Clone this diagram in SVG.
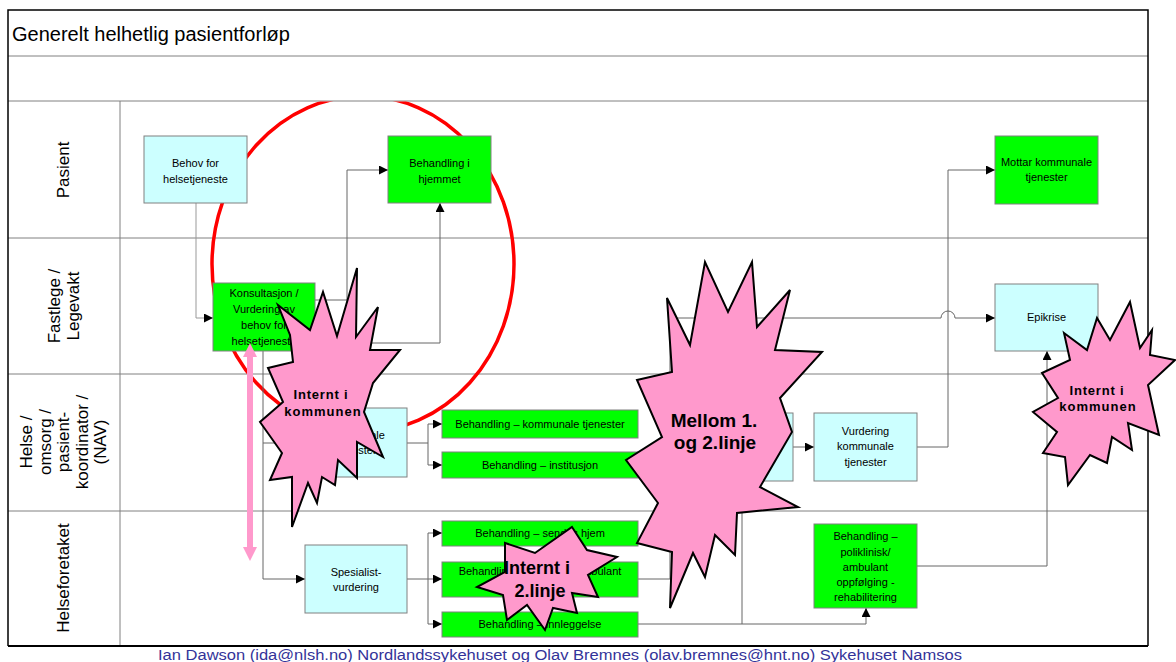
<svg xmlns="http://www.w3.org/2000/svg" width="1176" height="662" viewBox="0 0 1176 662">
<defs>
<marker id="arr" viewBox="0 0 10 10" refX="10" refY="5" markerWidth="9" markerHeight="9" markerUnits="userSpaceOnUse" orient="auto"><path d="M0 0 L10 5 L0 10 z" fill="#000"/></marker>
<clipPath id="belowhead"><rect x="0" y="101.5" width="1176" height="560"/></clipPath>
<style>
.lane{stroke:#808080;stroke-width:1;fill:none}
.frame{stroke:#000;stroke-width:1.5;fill:none}
.lbl{font-family:"Liberation Sans",Arial,sans-serif;font-size:17px;fill:#000;text-anchor:middle}
.t{font-family:"Liberation Sans",Arial,sans-serif;font-size:11px;fill:#000;text-anchor:middle}
.cyan{fill:#ccffff;stroke:#808080;stroke-width:1}
.green{fill:#00ff00;stroke:#808080;stroke-width:1}
.con{fill:none;stroke:#666;stroke-width:1;marker-end:url(#arr)}
.burst{fill:#ff99cc;stroke:#000;stroke-width:2;stroke-linejoin:miter}
.bt{font-family:"Liberation Sans",Arial,sans-serif;font-weight:bold;fill:#000;text-anchor:middle}
</style>
</defs>
<rect width="1176" height="662" fill="#fff"/>
<g id="frame">
<line class="lane" x1="8" y1="56" x2="1148" y2="56"/>
<line class="lane" x1="8" y1="101" x2="1148" y2="101"/>
<line class="lane" x1="8" y1="238" x2="1148" y2="238"/>
<line class="lane" x1="8" y1="374" x2="1148" y2="374"/>
<line class="lane" x1="8" y1="511" x2="1148" y2="511"/>
<line class="lane" x1="120" y1="101" x2="120" y2="646"/>
<path class="frame" d="M8 646 V10 H1148 V646"/>
<line x1="8" y1="646" x2="1148" y2="646" stroke="#000" stroke-width="2"/>
<text x="12" y="41" font-family="Liberation Sans, Arial, sans-serif" font-size="20" fill="#000">Generelt helhetlig pasientforløp</text>
<text class="lbl" transform="translate(69 170) rotate(-90)">Pasient</text>
<text class="lbl" transform="translate(60 306) rotate(-90)">Fastlege /</text>
<text class="lbl" transform="translate(79 306) rotate(-90)">Legevakt</text>
<text class="lbl" transform="translate(32 442) rotate(-90)">Helse /</text>
<text class="lbl" transform="translate(50.5 442) rotate(-90)">omsorg /</text>
<text class="lbl" transform="translate(69 442) rotate(-90)">pasient-</text>
<text class="lbl" transform="translate(87.5 442) rotate(-90)">koordinator /</text>
<text class="lbl" transform="translate(106 442) rotate(-90)">(NAV)</text>
<text class="lbl" transform="translate(69 578) rotate(-90)">Helseforetaket</text>
<text x="158" y="660" font-family="Liberation Sans, Arial, sans-serif" font-size="15.5" fill="#333399" textLength="804" lengthAdjust="spacingAndGlyphs">Ian Dawson (ida@nlsh.no) Nordlandssykehuset og Olav Bremnes (olav.bremnes@hnt.no) Sykehuset Namsos</text>
</g>
<ellipse id="red-circle" clip-path="url(#belowhead)" cx="363" cy="264" rx="151" ry="168" fill="none" stroke="#ff0000" stroke-width="3.5"/>
<g id="connectors">
<path d="M196 203 V318 H213" class="con" style="stroke:#999"/>
<path d="M315 300 H347 V170 H388" class="con"/>
<path d="M315 343 H440 V203" class="con"/>
<path d="M263 351 V579 H305" class="con"/>
<path d="M263 443 H304" class="con"/>
<path d="M407 443 H428 V424 H442" class="con"/>
<path d="M428 443 V465 H442" class="con"/>
<path d="M407 579 H428 V533 H442" class="con"/>
<path d="M428 579 H442" class="con"/>
<path d="M428 579 V624 H442" class="con"/>
<path d="M638 579 H670 V318 H941 A7 7 0 0 1 955 318 H995" class="con"/>
<path d="M638 624 H866 V608" class="con"/>
<path d="M742 624 V481" class="con"/>
<path d="M793 447 H814" class="con"/>
<path d="M917 447 H948 V170 H995" class="con"/>
<path d="M917 566 H1047 V351" class="con"/>
</g>
<g id="n-behov"><rect class="cyan" x="144" y="136" width="103" height="67"/><text class="t" x="195.5" y="167">Behov for</text><text class="t" x="195.5" y="183">helsetjeneste</text></g>
<g id="n-hjemmet"><rect class="green" x="388" y="136" width="103" height="67"/><text class="t" x="439.5" y="167">Behandling i</text><text class="t" x="439.5" y="183">hjemmet</text></g>
<g id="n-konsultasjon"><rect class="green" x="213" y="283" width="102" height="68"/><text class="t" x="264" y="297">Konsultasjon /</text><text class="t" x="264" y="313">Vurdering av</text><text class="t" x="264" y="329">behov for</text><text class="t" x="264" y="345">helsetjeneste</text></g>
<g id="n-kommunale"><rect class="cyan" x="304" y="408" width="103" height="69"/><text class="t" x="355.5" y="439">Kommunale</text><text class="t" x="355.5" y="454">tjenester</text></g>
<g id="n-beh-kommunale"><rect class="green" x="442" y="410" width="196" height="28"/><text class="t" x="540" y="428">Behandling – kommunale tjenester</text></g>
<g id="n-beh-institusjon"><rect class="green" x="442" y="452" width="196" height="26"/><text class="t" x="540" y="469">Behandling – institusjon</text></g>
<g id="n-spesialist"><rect class="cyan" x="305" y="545" width="102" height="68"/><text class="t" x="356" y="576">Spesialist-</text><text class="t" x="356" y="591">vurdering</text></g>
<g id="n-sendes-hjem"><rect class="green" x="442" y="521" width="196" height="25"/><text class="t" x="540" y="537">Behandling – sendes hjem</text></g>
<g id="n-ambulant"><rect class="green" x="442" y="562" width="196" height="35"/><text class="t" x="540" y="575">Behandling – poliklinisk/ambulant</text></g>
<g id="n-innleggelse"><rect class="green" x="442" y="612" width="196" height="25"/><text class="t" x="540" y="628">Behandling – innleggelse</text></g>
<g id="n-mid"><rect class="cyan" x="690" y="413" width="103" height="68"/></g>
<g id="n-vurdering"><rect class="cyan" x="814" y="413" width="103" height="68"/><text class="t" x="865.5" y="435">Vurdering</text><text class="t" x="865.5" y="450">kommunale</text><text class="t" x="865.5" y="466">tjenester</text></g>
<g id="n-rehab"><rect class="green" x="814" y="524" width="103" height="84"/><text class="t" x="865.5" y="540">Behandling –</text><text class="t" x="865.5" y="556">poliklinisk/</text><text class="t" x="865.5" y="571">ambulant</text><text class="t" x="865.5" y="586">oppfølging -</text><text class="t" x="865.5" y="601">rehabilitering</text></g>
<g id="n-mottar"><rect class="green" x="995" y="136" width="103" height="68"/><text class="t" x="1046.5" y="166">Mottar kommunale</text><text class="t" x="1046.5" y="181">tjenester</text></g>
<g id="n-epikrise"><rect class="cyan" x="995" y="284" width="103" height="67"/><text class="t" x="1046.5" y="321">Epikrise</text></g>
<g id="pink-arrow" fill="#ff99cc">
<rect x="247" y="355" width="6" height="194"/>
<polygon points="250,343 243,357 257,357"/>
<polygon points="250,561 243,547 257,547"/>
</g>
<g id="burst-kommunen-1">
<polygon class="burst" points="278,305 310,330 323,292 337,336 357,268 356,337 378,307 370,350 400,350 373,383 364,412 383,457 357,442 357,478 338,460 335,485 322,477 317,503 308,483 292,527 292,477 270,480 282,453 260,422 283,402 268,368 293,362 290,335"/>
<text class="bt" x="321" y="399" font-size="13" letter-spacing="0.8">Internt i</text>
<text class="bt" x="323" y="416" font-size="13" letter-spacing="1">kommunen</text>
</g>
<g id="burst-mellom">
<polygon class="burst" points="667,298 690,345 705,262 728,312 752,262 757,327 790,290 775,350 822,352 780,398 792,432 760,487 798,507 737,513 735,555 715,535 705,577 693,553 670,608 672,552 637,543 658,503 626,460 662,437 637,380 672,372"/>
<text class="bt" x="714" y="427" font-size="19">Mellom 1.</text>
<text class="bt" x="715" y="449" font-size="19">og 2.linje</text>
</g>
<g id="burst-2linje">
<polygon class="burst" points="572,527 587,550 617,557 588,575 598,597 572,593 577,613 553,608 545,630 527,605 507,620 503,595 477,587 505,572 505,543 535,553"/>
<text class="bt" x="537" y="574" font-size="18">Internt i</text>
<text class="bt" x="540" y="597" font-size="18">2.linje</text>
</g>
<g id="burst-kommunen-2">
<polygon class="burst" points="1064,333 1087,350 1097,318 1110,340 1130,302 1140,348 1152,330 1150,355 1175,360 1148,385 1159,435 1128,423 1132,450 1112,437 1107,463 1090,455 1068,485 1065,457 1043,453 1057,432 1033,412 1058,398 1042,373 1070,360"/>
<text class="bt" x="1097" y="395" font-size="13" letter-spacing="0.8">Internt i</text>
<text class="bt" x="1098" y="411" font-size="13" letter-spacing="1">kommunen</text>
</g>
</svg>
